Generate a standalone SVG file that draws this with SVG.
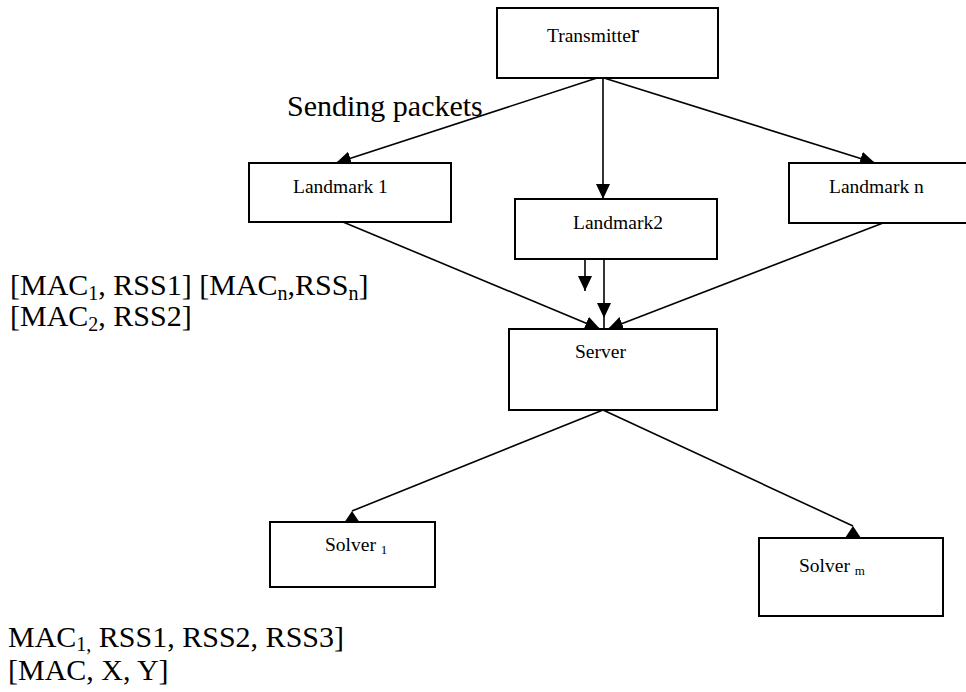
<svg xmlns="http://www.w3.org/2000/svg" width="966" height="692" viewBox="0 0 966 692">
<style>
.box{fill:#fff;stroke:#000;stroke-width:2}
.lbl{font-family:"Liberation Serif","Times New Roman",serif;font-size:19.5px;fill:#000}
.big{font-family:"Liberation Serif","Times New Roman",serif;font-size:30px;fill:#000}
.con{stroke:#000;stroke-width:1.6;fill:none}
</style>
<defs>
<marker id="arr" markerUnits="userSpaceOnUse" markerWidth="16" markerHeight="14" refX="15" refY="7" orient="auto">
<path d="M0,0 L15,7 L0,14 Z" fill="#000"/>
</marker>
<marker id="up" markerUnits="userSpaceOnUse" markerWidth="18" markerHeight="14" refX="8" refY="0" orient="0">
<path d="M8,0 L16,12 L0,12 Z" fill="#000"/>
</marker>
</defs>
<rect width="966" height="692" fill="#fff"/>
<g id="connectors">
<line class="con" x1="597" y1="78" x2="336" y2="163" marker-end="url(#arr)"/>
<line class="con" x1="603" y1="78" x2="603" y2="199" marker-end="url(#arr)"/>
<line class="con" x1="604" y1="78" x2="875" y2="163" marker-end="url(#arr)"/>
<line class="con" x1="343" y1="222" x2="600" y2="329" marker-end="url(#arr)"/>
<line class="con" x1="883" y1="223" x2="608" y2="329" marker-end="url(#arr)"/>
<line class="con" x1="585" y1="259" x2="585" y2="291" marker-end="url(#arr)"/>
<line class="con" x1="604" y1="259" x2="604" y2="318" marker-end="url(#arr)"/>
<line class="con" x1="604" y1="318" x2="604" y2="329"/>
<line class="con" x1="603" y1="410" x2="352" y2="511" marker-end="url(#up)"/>
<line class="con" x1="603" y1="410" x2="853" y2="526" marker-end="url(#up)"/>
</g>
<g id="transmitter">
<rect class="box" x="497" y="8" width="221" height="70"/>
<text class="lbl" x="547" y="42">Transmitte<tspan font-size="25">r</tspan></text>
</g>
<g id="landmark1">
<rect class="box" x="249" y="163" width="202" height="59"/>
<text class="lbl" x="293" y="193">Landmark 1</text>
</g>
<g id="landmark2">
<rect class="box" x="515" y="199" width="202" height="60"/>
<text class="lbl" x="573" y="229">Landmark2</text>
</g>
<g id="landmarkn">
<rect class="box" x="789" y="163" width="190" height="60"/>
<text class="lbl" x="829" y="193">Landmark n</text>
</g>
<g id="server">
<rect class="box" x="509" y="329" width="208" height="81"/>
<text class="lbl" x="575" y="358">Server</text>
</g>
<g id="solver1">
<rect class="box" x="270" y="522" width="165" height="65"/>
<text class="lbl" x="325" y="551">Solver <tspan font-size="13" dy="3">1</tspan></text>
</g>
<g id="solverm">
<rect class="box" x="759" y="538" width="184" height="78"/>
<text class="lbl" x="799" y="572">Solver <tspan font-size="13" dy="3">m</tspan></text>
</g>
<g id="labels">
<text class="big" x="287" y="116">Sending packets</text>
<text class="big" x="10" y="295">[MAC<tspan font-size="20" dy="5">1</tspan><tspan dy="-5">, RSS1] [MAC</tspan><tspan font-size="20" dy="5">n</tspan><tspan dy="-5">,RSS</tspan><tspan font-size="20" dy="5">n</tspan><tspan dy="-5">]</tspan></text>
<text class="big" x="10" y="326">[MAC<tspan font-size="20" dy="5">2</tspan><tspan dy="-5">, RSS2]</tspan></text>
<text class="big" x="8" y="647">MAC<tspan font-size="20" dy="4">1,</tspan><tspan dy="-4"> RSS1, RSS2, RSS3]</tspan></text>
<text class="big" x="8" y="680">[MAC, X, Y]</text>
</g>
</svg>
